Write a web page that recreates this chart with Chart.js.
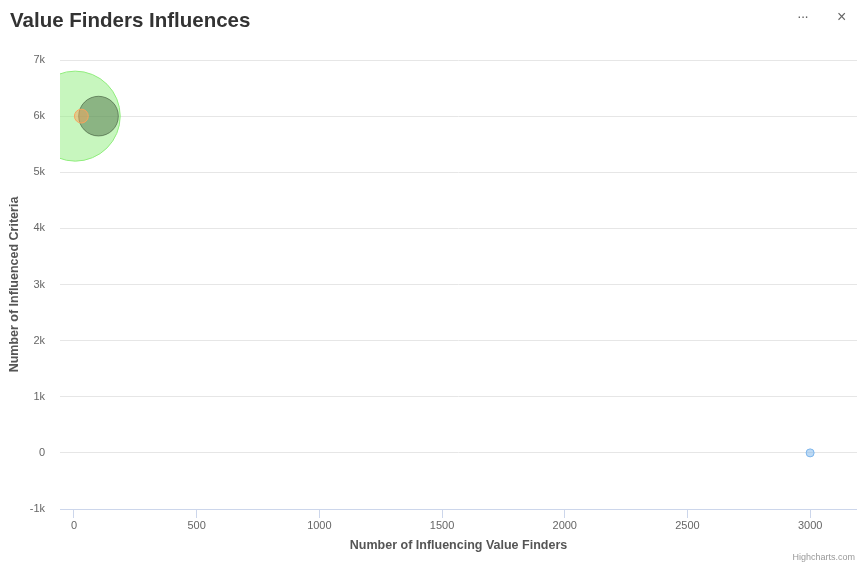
<!DOCTYPE html>
<html>
<head>
<meta charset="utf-8">
<script src="https://cdn.jsdelivr.net/npm/chart.js@4.4.1/dist/chart.umd.min.js"></script>
<style>
  html, body { margin: 0; padding: 0; background: #fff; }
  #wrap { position: relative; width: 857px; height: 563px; font-family: "Liberation Sans", Arial, sans-serif; }
  #title { position: absolute; left: 10px; top: 8px; font-size: 20.5px; font-weight: bold; color: #333; }
  #menu { position: absolute; left: 797px; top: 8px; font-size: 14px; color: #666; letter-spacing: -1px; }
  #close { position: absolute; left: 837px; top: 8px; font-size: 16px; color: #666; }
  #credit { position: absolute; right: 2px; top: 552px; font-size: 9px; color: #999; }
  canvas { position: absolute; left: 0; top: 0; }
</style>
</head>
<body>
<div id="wrap">
  <canvas id="bubbleChart" width="857" height="563"></canvas>
  <div id="title">Value Finders Influences</div>
  <div id="menu">&middot;&middot;&middot;</div>
  <div id="close">&times;</div>
  <div id="credit">Highcharts.com</div>
</div>
<script>
// Dados
const seriesNames = ['Series 1', 'Series 2', 'Series 3', 'Series 4'];
const xValues = [3000, 100, 5, 30];
const yValues = [0, 6000, 6000, 6000];
const zValues = [1, 150, 1000, 6];
const xTicks = [0, 500, 1000, 1500, 2000, 2500, 3000];
const yTicks = [-1000, 0, 1000, 2000, 3000, 4000, 5000, 6000, 7000];

const colors = ['#7cb5ec', 'rgba(60,85,55,0.6)', '#90ed7d', '#f7a35c'];
const fills = ['rgba(124,181,236,0.5)', 'rgba(67,100,60,0.45)', 'rgba(144,237,125,0.5)', 'rgba(247,163,92,0.5)'];
// ordem de desenho (maior = mais atrás)
const drawOrder = [0, 2, 3, 1];

// tamanho da bolha como no Highcharts (área proporcional a z)
const zMin = Math.min(...zValues);
const zMax = Math.max(...zValues);
function bubbleRadius(z) {
    const minSize = 8, maxSize = 90;
    const pos = Math.sqrt((z - zMin) / (zMax - zMin));
    return (minSize + pos * (maxSize - minSize)) / 2;
}

const datasets = seriesNames.map((name, i) => ({
    label: name,
    data: [{ x: xValues[i], y: yValues[i], r: bubbleRadius(zValues[i]) }],
    backgroundColor: fills[i],
    borderColor: colors[i],
    borderWidth: 1,
    order: drawOrder[i],
    clip: 0
}));

const ctx = document.getElementById('bubbleChart').getContext('2d');
const chart = new Chart(ctx, {
    type: 'bubble',
    data: { datasets: datasets },
    options: {
        responsive: false,
        animation: false,
        events: [],
        layout: { autoPadding: false, padding: { top: 60, left: 0, right: 0, bottom: 0 } },
        plugins: {
            legend: { display: false },
            tooltip: { enabled: false }
        },
        scales: {
            x: {
                type: 'linear',
                min: -57,
                max: 3191,
                afterBuildTicks: (scale) => { scale.ticks = xTicks.map(v => ({ value: v })); },
                afterFit: (scale) => {
                    scale.height = 54;
                    scale.paddingLeft = 0;
                    scale.paddingRight = 0;
                },
                border: { color: '#ccd6eb', width: 1 },
                grid: { drawOnChartArea: false, drawTicks: true, tickLength: 9, color: '#ccd6eb' },
                ticks: {
                    color: '#666',
                    font: { family: 'Liberation Sans', size: 11 },
                    padding: 1,
                    maxRotation: 0,
                    autoSkip: false,
                    callback: (v) => String(v)
                },
                title: {
                    display: true,
                    text: 'Number of Influencing Value Finders',
                    color: '#555',
                    font: { family: 'Liberation Sans', size: 12.5, weight: 'bold' },
                    padding: { top: 0, bottom: 10 }
                }
            },
            y: {
                type: 'linear',
                min: -1000,
                max: 7000,
                afterBuildTicks: (scale) => { scale.ticks = yTicks.map(v => ({ value: v })); },
                afterFit: (scale) => { scale.width = 60; },
                border: { display: false },
                grid: { color: '#e6e6e6', drawTicks: false },
                ticks: {
                    color: '#666',
                    font: { family: 'Liberation Sans', size: 11 },
                    padding: 15,
                    callback: (v) => v === 0 ? '0' : (v / 1000) + 'k'
                },
                title: {
                    display: true,
                    text: 'Number of Influenced Criteria',
                    color: '#555',
                    font: { family: 'Liberation Sans', size: 12.5, weight: 'bold' },
                    padding: { top: 7, bottom: 0 }
                }
            }
        }
    }
});
</script>
</body>
</html>
